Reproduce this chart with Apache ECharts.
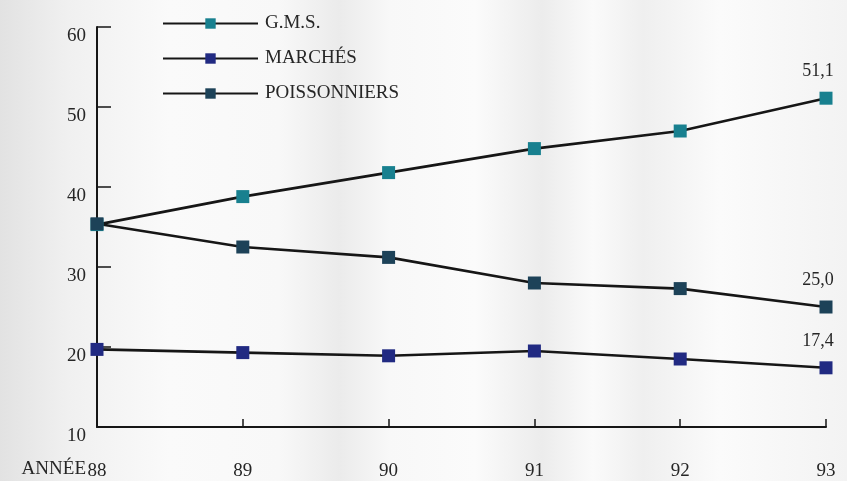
<!DOCTYPE html>
<html>
<head>
<meta charset="utf-8">
<script src="https://cdn.jsdelivr.net/npm/echarts@6/dist/echarts.min.js"></script>
<style>
  html, body { margin: 0; padding: 0; }
  #chart { width: 847px; height: 481px; }
</style>
</head>
<body>
<div id="chart"></div>
<script>
// Years on the horizontal axis
const years = ['88', '89', '90', '91', '92', '93'];

// Market share by distribution channel (%)
const gms = [35.3, 38.8, 41.8, 44.8, 47.0, 51.1];
const marches = [19.7, 19.3, 18.9, 19.5, 18.5, 17.4];
const poissonniers = [35.4, 32.5, 31.2, 28.0, 27.3, 25.0];

// Vertical scale
const yMin = 10, yMax = 60, yStep = 10;

const serif = '"Liberation Serif", "DejaVu Serif", serif';
const lineColor = '#161616';
const textColor = '#262626';

function lastValueLabel(p) {
  return p.dataIndex === years.length - 1 ? p.value.toFixed(1).replace('.', ',') : '';
}

function makeSeries(name, data, markerColor) {
  return {
    name: name,
    type: 'line',
    data: data,
    symbol: 'rect',
    symbolSize: 13,
    showSymbol: true,
    z: 3,
    lineStyle: { color: lineColor, width: 2.6 },
    itemStyle: { color: markerColor, borderWidth: 0 },
    label: {
      show: true,
      position: 'top',
      distance: 11,
      offset: [-8, 0],
      formatter: lastValueLabel,
      fontFamily: serif,
      fontSize: 18,
      color: textColor
    },
    emphasis: { disabled: true }
  };
}

const chart = echarts.init(document.getElementById('chart'));
chart.setOption({
  animation: false,
  backgroundColor: new echarts.graphic.LinearGradient(0, 0, 1, 0, [
    { offset: 0.0, color: '#e2e2e2' },
    { offset: 0.08, color: '#f0f0f0' },
    { offset: 0.2, color: '#fafafa' },
    { offset: 0.33, color: '#f8f8f8' },
    { offset: 0.4, color: '#ebebeb' },
    { offset: 0.46, color: '#f8f8f8' },
    { offset: 0.56, color: '#fbfbfb' },
    { offset: 0.64, color: '#ececec' },
    { offset: 0.7, color: '#fafafa' },
    { offset: 0.76, color: '#efefef' },
    { offset: 0.85, color: '#fbfbfb' },
    { offset: 1.0, color: '#f3f3f3' }
  ]),
  grid: { left: 97, right: 21, top: 27, bottom: 54 },
  legend: {
    orient: 'vertical',
    left: 162,
    top: 14,
    padding: 0,
    itemWidth: 95,
    itemHeight: 13,
    itemGap: 16,
    selectedMode: false,
    textStyle: { fontFamily: serif, fontSize: 19, color: textColor, padding: [0, 0, 0, 2] },
    data: ['G.M.S.', 'MARCHÉS', 'POISSONNIERS']
  },
  xAxis: {
    type: 'category',
    data: years,
    boundaryGap: false,
    axisLine: { lineStyle: { color: lineColor, width: 2 } },
    axisTick: { show: true, inside: true, length: 8, alignWithLabel: true, lineStyle: { color: lineColor, width: 1.5 } },
    axisLabel: { margin: 35, fontFamily: serif, fontSize: 19, color: textColor },
    splitLine: { show: false }
  },
  yAxis: {
    type: 'value',
    min: yMin,
    max: yMax,
    interval: yStep,
    axisLine: { show: true, lineStyle: { color: lineColor, width: 2 } },
    axisTick: { show: true, inside: true, length: 14, lineStyle: { color: lineColor, width: 1.5 } },
    axisLabel: { margin: 11, fontFamily: serif, fontSize: 19, color: textColor, verticalAlign: 'top' },
    splitLine: { show: false }
  },
  graphic: [{
    type: 'text',
    right: 847 - 86,
    top: 460,
    style: { text: 'ANNÉE', fontFamily: serif, fontSize: 19, fill: textColor }
  }],
  series: [
    makeSeries('G.M.S.', gms, '#18808f'),
    makeSeries('MARCHÉS', marches, '#212a82'),
    makeSeries('POISSONNIERS', poissonniers, '#1d4258')
  ]
});
</script>
</body>
</html>
